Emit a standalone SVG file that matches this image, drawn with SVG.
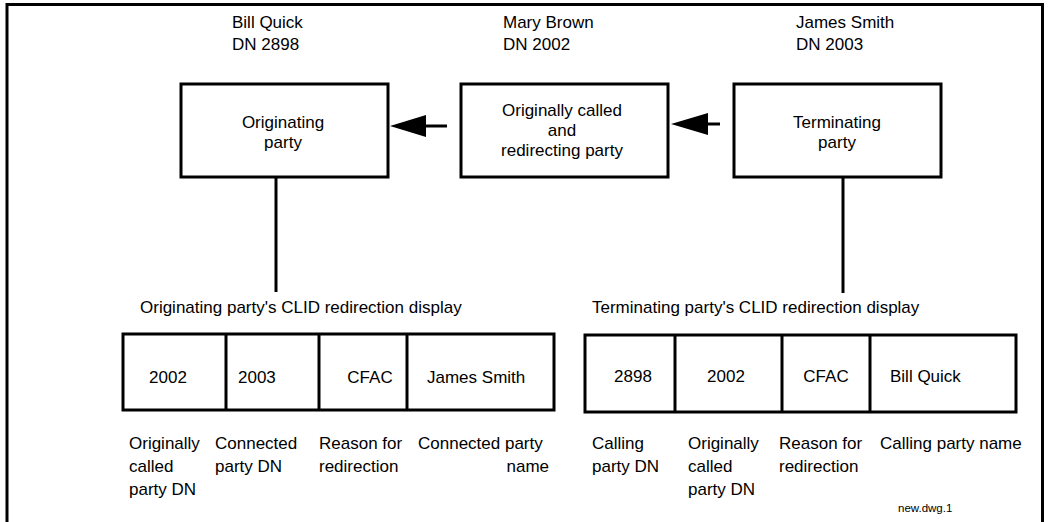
<svg xmlns="http://www.w3.org/2000/svg" width="1048" height="522" viewBox="0 0 1048 522">
<style>
text{font-family:"Liberation Sans",Arial,sans-serif;font-size:17px;fill:#000}
.c{text-anchor:middle}
.e{text-anchor:end}
.s{font-size:11.5px}
.b{fill:#fff;stroke:#000;stroke-width:3}
.l{stroke:#000;stroke-width:3;fill:none}
</style>
<rect width="1048" height="522" fill="#fff"/>
<path class="l" d="M7,524 V4.5 H1042.5 V524"/>
<g id="label-bill"><text x="232" y="28">Bill Quick</text><text x="232" y="50">DN 2898</text></g>
<g id="label-mary"><text x="503" y="28">Mary Brown</text><text x="503" y="50">DN 2002</text></g>
<g id="label-james"><text x="796" y="28">James Smith</text><text x="796" y="50">DN 2003</text></g>
<g id="originating">
<rect class="b" x="181" y="84" width="207" height="93"/>
<text class="c" x="283" y="128">Originating</text><text class="c" x="283" y="148">party</text>
</g>
<g id="redirecting">
<rect class="b" x="461" y="84" width="207" height="93"/>
<text class="c" x="562" y="116">Originally called</text><text class="c" x="562" y="136">and</text><text class="c" x="562" y="156">redirecting party</text>
</g>
<g id="terminating">
<rect class="b" x="734" y="84" width="207" height="93"/>
<text class="c" x="837" y="128">Terminating</text><text class="c" x="837" y="148">party</text>
</g>
<g id="connectors">
<line class="l" x1="424" y1="126" x2="447" y2="126"/>
<polygon points="390,126 426,115 426,137"/>
<line class="l" x1="706" y1="124" x2="720" y2="124"/>
<polygon points="671,124 708,113 708,135"/>
<line class="l" x1="276" y1="177" x2="276" y2="292"/>
<line class="l" x1="843" y1="177" x2="843" y2="293"/>
</g>
<g id="orig-display">
<text x="140" y="313">Originating party's CLID redirection display</text>
<rect class="b" x="123" y="334" width="431" height="76"/>
<line class="l" x1="226" y1="334" x2="226" y2="409"/>
<line class="l" x1="319" y1="334" x2="319" y2="409"/>
<line class="l" x1="407" y1="334" x2="407" y2="409"/>
<text class="c" x="168" y="383">2002</text>
<text x="238" y="383">2003</text>
<text class="c" x="370" y="383">CFAC</text>
<text x="427" y="383">James Smith</text>
</g>
<g id="orig-labels">
<text x="129" y="449">Originally</text><text x="129" y="472">called</text><text x="129" y="495">party DN</text>
<text x="215" y="449">Connected</text><text x="215" y="472">party DN</text>
<text x="319" y="449">Reason for</text><text x="319" y="472">redirection</text>
<text x="418" y="449">Connected party</text><text class="e" x="549" y="472">name</text>
</g>
<g id="term-display">
<text x="592" y="313">Terminating party's CLID redirection display</text>
<rect class="b" x="585" y="335" width="431" height="77"/>
<line class="l" x1="675" y1="335" x2="675" y2="411"/>
<line class="l" x1="782" y1="335" x2="782" y2="411"/>
<line class="l" x1="870" y1="335" x2="870" y2="411"/>
<text class="c" x="633" y="382">2898</text>
<text class="c" x="726" y="382">2002</text>
<text class="c" x="826" y="382">CFAC</text>
<text x="890" y="382">Bill Quick</text>
</g>
<g id="term-labels">
<text x="592" y="449">Calling</text><text x="592" y="472">party DN</text>
<text x="688" y="449">Originally</text><text x="688" y="472">called</text><text x="688" y="495">party DN</text>
<text x="779" y="449">Reason for</text><text x="779" y="472">redirection</text>
<text x="880" y="449">Calling party name</text>
</g>
<text class="s" x="898" y="512">new.dwg.1</text>
</svg>
